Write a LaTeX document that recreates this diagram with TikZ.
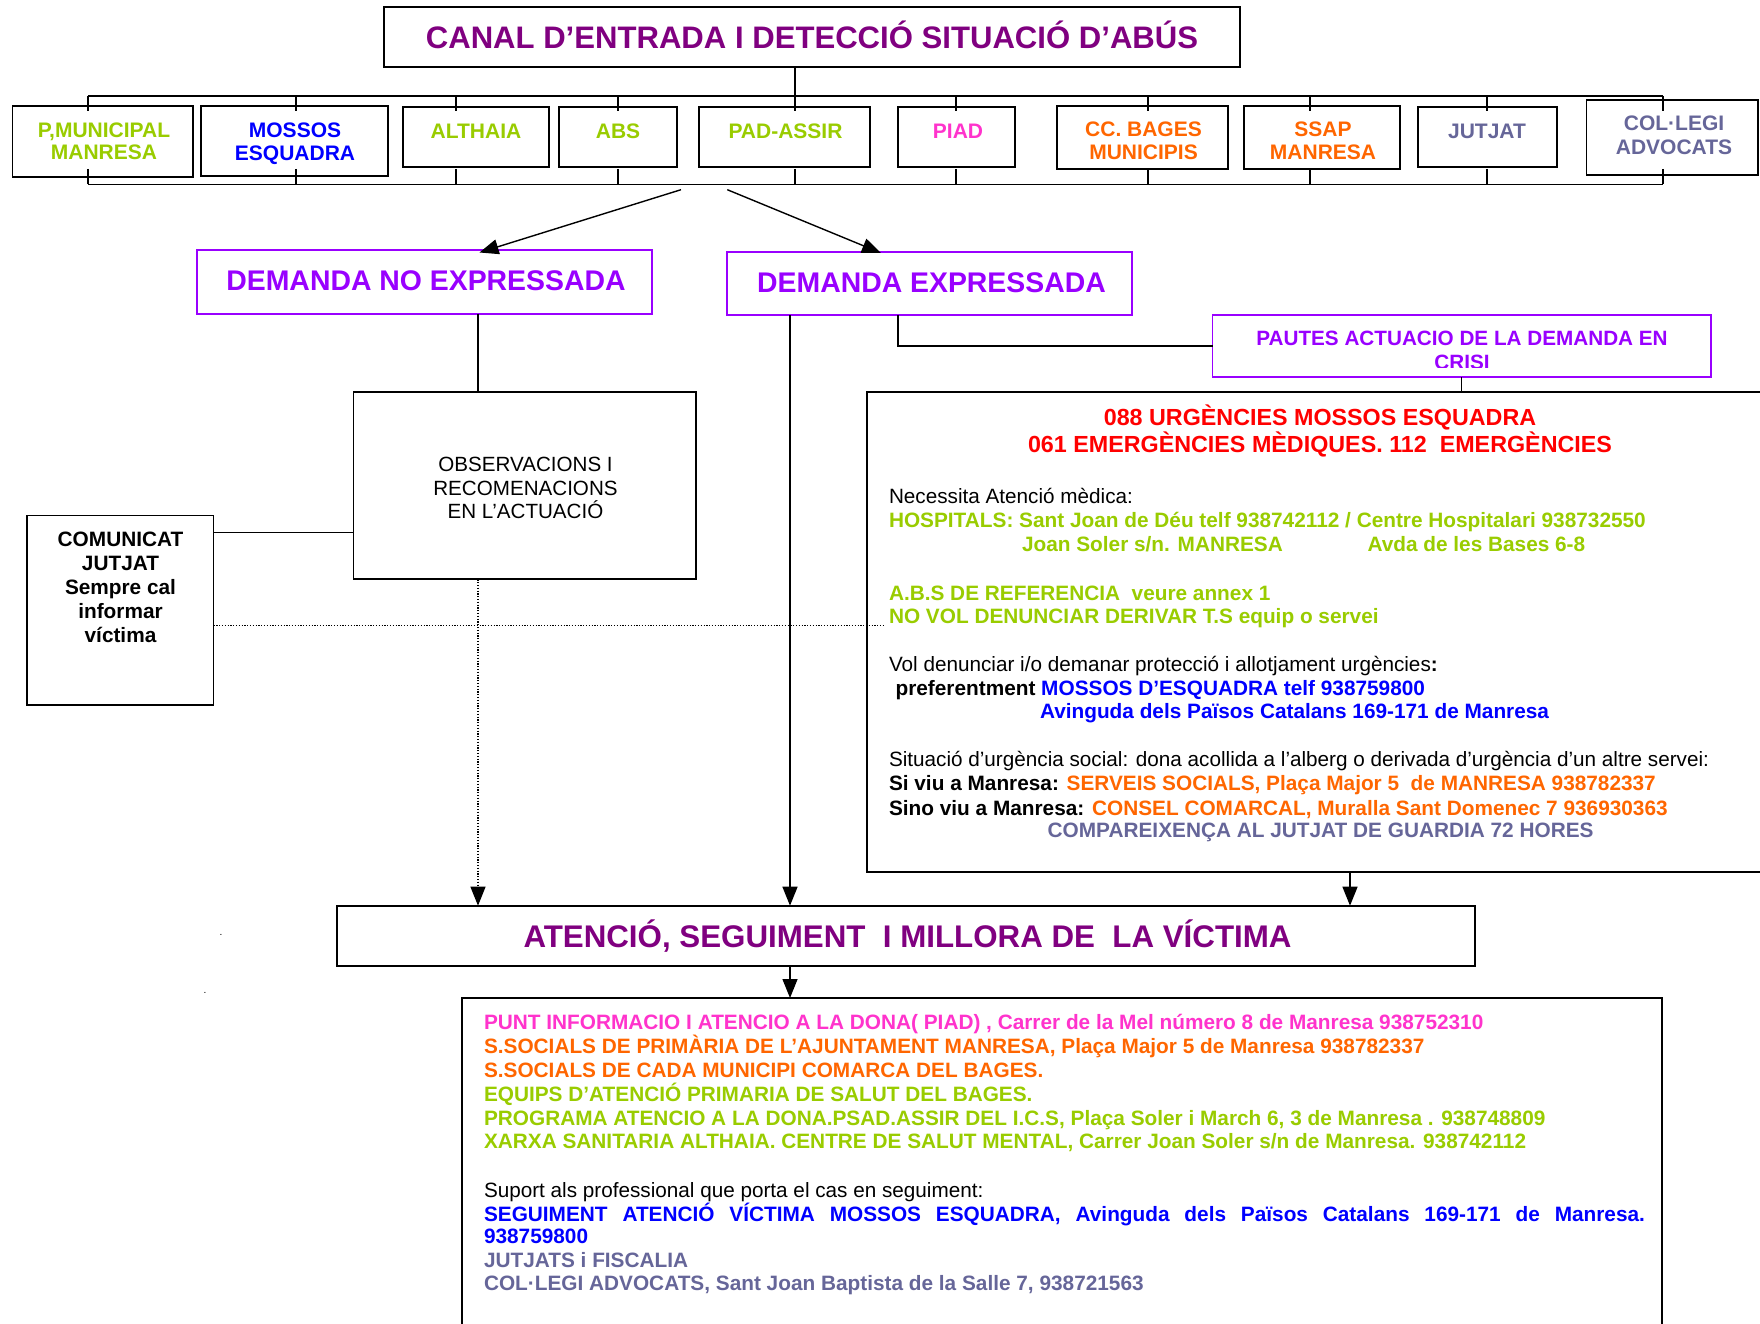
\documentclass[tikz,border=0pt]{standalone}
\usepackage{fontspec}
\setmainfont{Liberation Sans}
\usetikzlibrary{arrows.meta,calc}
\definecolor{ttlpurple}{HTML}{800080}
\definecolor{dviolet}{HTML}{9900FF}
\definecolor{lgreen}{HTML}{99CC00}
\definecolor{mblue}{HTML}{0000FF}
\definecolor{morange}{HTML}{FF6600}
\definecolor{mpink}{HTML}{FF33CC}
\definecolor{mred}{HTML}{FF0000}
\definecolor{slate}{HTML}{666699}
\newcommand{\myfs}[1]{\fontsize{#1}{#1}\selectfont}
\begin{document}
\begin{tikzpicture}[x=1pt,y=-1pt,
  box/.style={draw=black, line width=1.7pt, inner sep=0pt, outer sep=0pt},
  vbox/.style={box, draw=dviolet},
  lbl/.style={inner sep=0pt, outer sep=0pt, anchor=base, font=\myfs{20.8}\bfseries},
  lblw/.style={lbl, anchor=base west},
  reg/.style={font=\myfs{20.7}},
  toplbl/.style={lbl, font=\myfs{21}\bfseries},
  conn/.style={line width=1.4pt},
  arr/.style={conn, -{Triangle[length=19pt,width=15pt]}},
  dotl/.style={line width=1.2pt, dash pattern=on 1.2pt off 1.6pt}]
\fill[white] (0,0) rectangle (1760,1324);
\useasboundingbox (0,0) rectangle (1760,1324);

% ---------- title ----------
\node[box, line width=2pt, minimum width=856.5pt, minimum height=59.4pt] (title) at (811.9,37) {};
\node[lbl, font=\myfs{31.1}\bfseries, text=ttlpurple] (title-t) at (812,49) {CANAL D’ENTRADA I DETECCIÓ SITUACIÓ D’ABÚS};

% ---------- top row boxes ----------
\node[box, minimum width=180.4pt, minimum height=71pt]   (b1)  at (102.8,141.2) {};
\node[box, minimum width=187pt,   minimum height=70.3pt] (b2)  at (294.5,140.85) {};
\node[box, minimum width=146pt,   minimum height=59.7pt] (b3)  at (476,137.15) {};
\node[box, minimum width=118pt,   minimum height=59.7pt] (b4)  at (618,137.15) {};
\node[box, minimum width=171pt,   minimum height=59.7pt] (b5)  at (784.5,137.15) {};
\node[box, minimum width=117pt,   minimum height=59.7pt] (b6)  at (956.5,137.15) {};
\node[box, minimum width=171pt,   minimum height=63pt]   (b7)  at (1142.5,137.2) {};
\node[box, minimum width=156pt,   minimum height=63pt]   (b8)  at (1322,137.2) {};
\node[box, minimum width=139pt,   minimum height=59.7pt] (b9)  at (1487.5,137.15) {};
\node[box, minimum width=171.5pt, minimum height=75pt]   (b10) at (1672.25,137.5) {};

\node[toplbl, text=lgreen] (b1-t1) at (104,137.3) {P,MUNICIPAL};
\node[toplbl, text=lgreen] (b1-t2) at (104,160) {MANRESA};
\node[toplbl, text=mblue] (b2-t1) at (295,137.5) {MOSSOS};
\node[toplbl, text=mblue] (b2-t2) at (295,160.5) {ESQUADRA};
\node[toplbl, text=lgreen] (b3-t) at (476,138.7) {ALTHAIA};
\node[toplbl, text=lgreen] (b4-t) at (618,138.7) {ABS};
\node[toplbl, text=lgreen] (b5-t) at (785.5,138.7) {PAD-ASSIR};
\node[toplbl, text=mpink] (b6-t) at (958,138.7) {PIAD};
\node[toplbl, text=morange] (b7-t1) at (1143.5,136.7) {CC. BAGES};
\node[toplbl, text=morange] (b7-t2) at (1143.5,160) {MUNICIPIS};
\node[toplbl, text=morange] (b8-t1) at (1323,136.7) {SSAP};
\node[toplbl, text=morange] (b8-t2) at (1323,160) {MANRESA};
\node[toplbl, text=slate] (b9-t) at (1487,138.7) {JUTJAT};
\node[toplbl, text=slate] (b10-t1) at (1674,131) {COL·LEGI};
\node[toplbl, text=slate] (b10-t2) at (1674,154.5) {ADVOCATS};

% ---------- buses ----------
\coordinate (busTL) at (87.8,96);
\coordinate (busTR) at (1663,96);
\coordinate (busBL) at (87.8,184.3);
\coordinate (busBR) at (1663,184.3);
\coordinate (tc) at (795,96);
\draw[conn] (tc |- title.south) -- (tc);
\draw[conn] (busTL) -- (busTR);
\draw[conn] (busBL) -- (busBR);
\foreach \x in {87.8,296,456,618,795,956,1148,1310,1487,1663}{
  \draw[conn] (\x,96) -- (\x,111.5);
  \draw[conn] (\x,169) -- (\x,184.3);
}

% ---------- demand boxes ----------
\node[vbox, minimum width=455pt, minimum height=63.8pt] (dno) at (424.5,281.9) {};
\node[lbl, font=\myfs{28.4}\bfseries, text=dviolet] (dno-t) at (426,290.3) {DEMANDA NO EXPRESSADA};
\node[vbox, minimum width=405pt, minimum height=63.5pt] (de) at (929.5,283.45) {};
\node[lbl, font=\myfs{28.4}\bfseries, text=dviolet] (de-t) at (931.5,292) {DEMANDA EXPRESSADA};

\coordinate (s1) at (681,189.7);
\coordinate (e1) at (479.5,252.5);
\coordinate (s2) at (727.3,189.7);
\coordinate (e2) at (881,253);
\draw[arr] (s1) -- (e1);
\draw[arr] (s2) -- (e2);

% ---------- pautes ----------
\node[vbox, minimum width=498.5pt, minimum height=62.3pt] (pautes) at (1461.75,346.15) {};
\node[lbl, font=\myfs{20.7}\bfseries, text=dviolet] (pautes-t1) at (1462,345) {PAUTES ACTUACIO DE LA DEMANDA EN};
\begin{scope}
  \clip (1212,315) rectangle (1712,367);
  \node[lbl, font=\myfs{20.7}\bfseries, text=dviolet] (pautes-t2) at (1462,369) {CRISI};
\end{scope}
\coordinate (px) at (898,0);
\draw[conn] (px |- de.south) |- (pautes.west);

% ---------- crisis box ----------
\node[box, minimum width=933pt, minimum height=480pt] (crisis) at (1333.5,631.7) {};
\draw[conn] (pautes.south) -- (pautes.south |- crisis.north);
\node[lbl, font=\myfs{23.3}\bfseries, text=mred] (cr-1) at (1320,425) {088 URGÈNCIES MOSSOS ESQUADRA};
\node[lbl, font=\myfs{23.3}\bfseries, text=mred] (cr-2) at (1320,452) {061 EMERGÈNCIES MÈDIQUES. 112~ EMERGÈNCIES};
\node[lblw, reg] (cr-3) at (889,503.3) {Necessita Atenció mèdica:};
\node[lblw, text=lgreen] (cr-4) at (889,527.3) {HOSPITALS: Sant Joan de Déu telf 938742112 / Centre Hospitalari 938732550};
\node[lblw, text=lgreen] (cr-5a) at (1022,551.5) {Joan Soler s/n. MANRESA};
\node[lblw, text=lgreen] (cr-5b) at (1367.5,551.5) {Avda de les Bases 6-8};
\node[lblw, text=lgreen] (cr-6) at (889,600) {A.B.S DE REFERENCIA~ veure annex 1};
\node[lblw, text=lgreen] (cr-7) at (889,623.3) {NO VOL DENUNCIAR DERIVAR T.S equip o servei};
\node[lblw, reg] (cr-8) at (889,671) {Vol denunciar i/o demanar protecció i allotjament urgències\textbf{:}};
\node[lblw] (cr-9) at (895.6,695) {preferentment \textcolor{mblue}{MOSSOS D’ESQUADRA telf 938759800}};
\node[lblw, text=mblue] (cr-10) at (1040,718.3) {Avinguda dels Països Catalans 169-171 de Manresa};
\node[lblw, reg] (cr-11) at (889,766) {Situació d’urgència social: dona acollida a l’alberg o derivada d’urgència d’un altre servei:};
\node[lblw] (cr-12) at (889,790) {Si viu a Manresa: \textcolor{morange}{SERVEIS SOCIALS, Plaça Major 5~ de MANRESA 938782337}};
\node[lblw] (cr-13) at (889,815) {Sino viu a Manresa: \textcolor{morange}{CONSEL COMARCAL, Muralla Sant Domenec 7 936930363}};
\node[lblw, text=slate] (cr-14) at (1047.7,837.3) {COMPAREIXENÇA AL JUTJAT DE GUARDIA 72 HORES};

% ---------- observacions / comunicat ----------
\node[box, minimum width=342.7pt, minimum height=187.3pt] (obs) at (524.95,485.65) {};
\node[lbl, font=\myfs{20.6}] (obs-1) at (525.5,471.6) {OBSERVACIONS I};
\node[lbl, font=\myfs{20.6}] (obs-2) at (525.5,495.7) {RECOMENACIONS};
\node[lbl, font=\myfs{20.6}] (obs-3) at (525.5,518.7) {EN L’ACTUACIÓ};

\node[box, minimum width=186.5pt, minimum height=189.7pt] (com) at (120.25,610.35) {};
\node[lbl] (com-1) at (120.5,546.6) {COMUNICAT};
\node[lbl] (com-2) at (120.5,570.7) {JUTJAT};
\node[lbl] (com-3) at (120.5,594.8) {Sempre cal};
\node[lbl] (com-4) at (120.5,618) {informar};
\node[lbl] (com-5) at (120.5,642) {víctima};

\coordinate (cx) at (478,0);
\coordinate (cy) at (0,532.4);
\coordinate (dy) at (0,625.5);
\coordinate (dend) at (884,625.5);
\draw[conn] (cx |- dno.south) -- (cx |- obs.north);
\draw[conn] (cy -| com.east) -- (cy -| obs.west);
\draw[dotl] (dy -| com.east) -- (dend);

% ---------- atencio box ----------
\node[box, line width=2.4pt, minimum width=1138.1pt, minimum height=60.3pt] (atn) at (905.75,935.85) {};
\node[lbl, font=\myfs{31.3}\bfseries, text=ttlpurple] (atn-t) at (907.5,947.7) {ATENCIÓ, SEGUIMENT~ I MILLORA DE~ LA VÍCTIMA};

\coordinate (vx) at (790,0);
\coordinate (rx) at (1350,0);
\draw[dotl, -{Triangle[length=19pt,width=15pt]}] (cx |- obs.south) -- (cx |- atn.north);
\draw[arr] (vx |- de.south) -- (vx |- atn.north);
\draw[arr] (rx |- crisis.south) -- (rx |- atn.north);

% ---------- bottom box ----------
\node[box, minimum width=1200pt, minimum height=402pt] (bot) at (1062,1199) {};
\draw[arr] (vx |- atn.south) -- (vx |- bot.north);
\node[lblw, text=mpink] (bt-1) at (484,1029) {PUNT INFORMACIO I ATENCIO A LA DONA( PIAD) , Carrer de la Mel número 8 de Manresa 938752310};
\node[lblw, text=morange] (bt-2) at (484,1053.3) {S.SOCIALS DE PRIMÀRIA DE L’AJUNTAMENT MANRESA, Plaça Major 5 de Manresa 938782337};
\node[lblw, text=morange] (bt-3) at (484,1077.3) {S.SOCIALS DE CADA MUNICIPI COMARCA DEL BAGES.};
\node[lblw, text=lgreen] (bt-4) at (484,1101) {EQUIPS D’ATENCIÓ PRIMARIA DE SALUT DEL BAGES.};
\node[lblw, text=lgreen] (bt-5) at (484,1125) {PROGRAMA ATENCIO A LA DONA.PSAD.ASSIR DEL I.C.S, Plaça Soler i March 6, 3 de Manresa . 938748809};
\node[lblw, text=lgreen] (bt-6) at (484,1148.7) {XARXA SANITARIA ALTHAIA. CENTRE DE SALUT MENTAL, Carrer Joan Soler s/n de Manresa. 938742112};
\node[lblw, reg] (bt-7) at (484,1197.5) {Suport als professional que porta el cas en seguiment:};
\node[lblw, text=mblue] (bt-8) at (484,1221) {\makebox[1161pt][s]{SEGUIMENT ATENCIÓ VÍCTIMA MOSSOS ESQUADRA, Avinguda dels Països Catalans 169-171 de Manresa.}};
\node[lblw, text=mblue] (bt-9) at (484,1243.3) {938759800};
\node[lblw, text=slate] (bt-10) at (484,1267.3) {JUTJATS i FISCALIA};
\node[lblw, text=slate] (bt-11) at (484,1290.7) {COL·LEGI ADVOCATS, Sant Joan Baptista de la Salle 7, 938721563};

% stray dots
\node[lbl, font=\myfs{10}] (dot1) at (221,935) {.};
\node[lbl, font=\myfs{10}] (dot2) at (205,993) {.};
\end{tikzpicture}
\end{document}
